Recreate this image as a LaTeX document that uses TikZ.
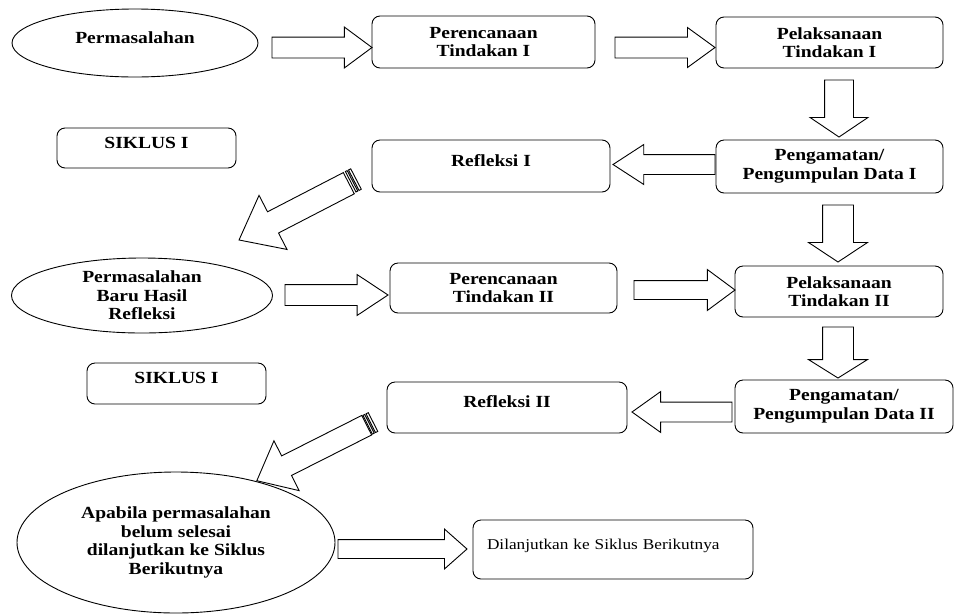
\documentclass[tikz,border=0pt]{standalone}
\usepackage{fontspec}
\setmainfont{Liberation Serif}[FakeStretch=1.15]
\usetikzlibrary{shapes.geometric,shapes.arrows}

\tikzset{
  kotak/.style={draw,rounded corners=8pt,line width=0.9pt,align=center,inner sep=0pt,
    font=\fontsize{17}{18.5}\selectfont\bfseries},
  elips/.style={draw,ellipse,line width=0.9pt,align=center,inner sep=0pt,
    font=\fontsize{17}{18.5}\selectfont\bfseries},
  satu/.style={text height=12pt,text depth=12pt},
  % length / head width / half shaft / head extend / tip angle
  panah/.style args={#1/#2/#3/#4/#5}{draw,single arrow,line width=0.9pt,inner xsep=0pt,inner ysep=#3pt,
    outer sep=0pt,anchor=tail,minimum height=#1pt,minimum width=#2pt,single arrow head extend=#4pt,
    single arrow tip angle=#5},
}

\begin{document}
\begin{tikzpicture}[x=1pt,y=-1pt]
  \useasboundingbox (0,0) rectangle (955,614);

  % siklus I
  \node[elips,satu,minimum width=246pt,minimum height=68pt] (P1) at (135,43) {Permasalahan};
  \node[kotak,minimum width=223pt,minimum height=52pt] (RT1) at (483.5,42) {Perencanaan\\Tindakan I};
  \node[kotak,minimum width=227pt,minimum height=51pt] (LT1) at (829.5,42.5) {Pelaksanaan\\Tindakan I};
  \node[kotak,minimum width=227pt,minimum height=53pt] (PG1) at (829.5,166.5) {Pengamatan/\\Pengumpulan Data I};
  \node[kotak,satu,minimum width=238pt,minimum height=52pt] (RF1) at (491,166) {Refleksi I};
  \node[kotak,satu,minimum width=179pt,minimum height=40pt] (S1) at (146.5,148) {SIKLUS I};

  \node[panah=100/40/10/10/73] (a1) at (272,47.5) {};
  \node[panah=100/39/10/9.5/72] (a2) at (615,47.5) {};
  \node[panah=57/57/14/14.5/112,rotate=-90] (d1) at (839,80) {};
  \node[panah=102/39/9.5/10/66,rotate=180] (l1) at (715,164.5) {};
  \node[panah=123.6/60/11.5/18.5/77,rotate=207.35] (g1) at (348.8,183.2) {};
  \begin{scope}[shift={(356,179)},rotate=207.35]
    \draw[line width=0.9pt] (0,-11.5) rectangle (2.5,11.5) (4,-11.5) rectangle (6,11.5);
  \end{scope}

  % siklus II
  \node[elips,minimum width=261pt,minimum height=75pt] (P2) at (142,295.5) {Permasalahan\\Baru Hasil\\Refleksi};
  \node[kotak,minimum width=227pt,minimum height=50pt] (RT2) at (503.5,288) {Perencanaan\\Tindakan II};
  \node[kotak,minimum width=208pt,minimum height=51pt] (LT2) at (839,291.5) {Pelaksanaan\\Tindakan II};
  \node[kotak,minimum width=218pt,minimum height=53pt] (PG2) at (844,406.5) {Pengamatan/\\Pengumpulan Data II};
  \node[kotak,satu,minimum width=240pt,minimum height=51pt] (RF2) at (507,407.5) {Refleksi II};
  \node[kotak,satu,minimum width=179pt,minimum height=41pt] (S2) at (176.5,383.5) {SIKLUS I};

  \node[panah=103/40/10/10/67] (a3) at (285,295) {};
  \node[panah=101/40/9/11/73] (a4) at (634,290) {};
  \node[panah=57/58/15/14/113,rotate=-90] (d2) at (838,205) {};
  \node[panah=51/58/15/14/116,rotate=-90] (d3) at (838,327) {};
  \node[panah=100/40/9.5/10.5/71,rotate=180] (l2) at (732,412) {};
  \node[panah=123.1/55/10.5/17/80,rotate=206.8] (g2) at (366.7,425.2) {};
  \begin{scope}[shift={(373,422)},rotate=206.8]
    \draw[line width=0.9pt] (0,-10.5) rectangle (2.5,10.5) (4,-10.5) rectangle (6,10.5);
  \end{scope}

  % lanjut
  \node[elips,minimum width=318pt,minimum height=141pt] (P3) at (176,542.5)
    {Apabila permasalahan\\belum selesai\\dilanjutkan ke Siklus\\Berikutnya};
  \node[kotak,satu,minimum width=280pt,minimum height=59pt,text width=252pt,align=left,
    font=\fontsize{15}{18}\selectfont] (DL) at (613,549.5) {Dilanjutkan ke Siklus Berikutnya};
  \node[panah=129/39/9/10.5/83] (a5) at (338,549) {};
\end{tikzpicture}
\end{document}
